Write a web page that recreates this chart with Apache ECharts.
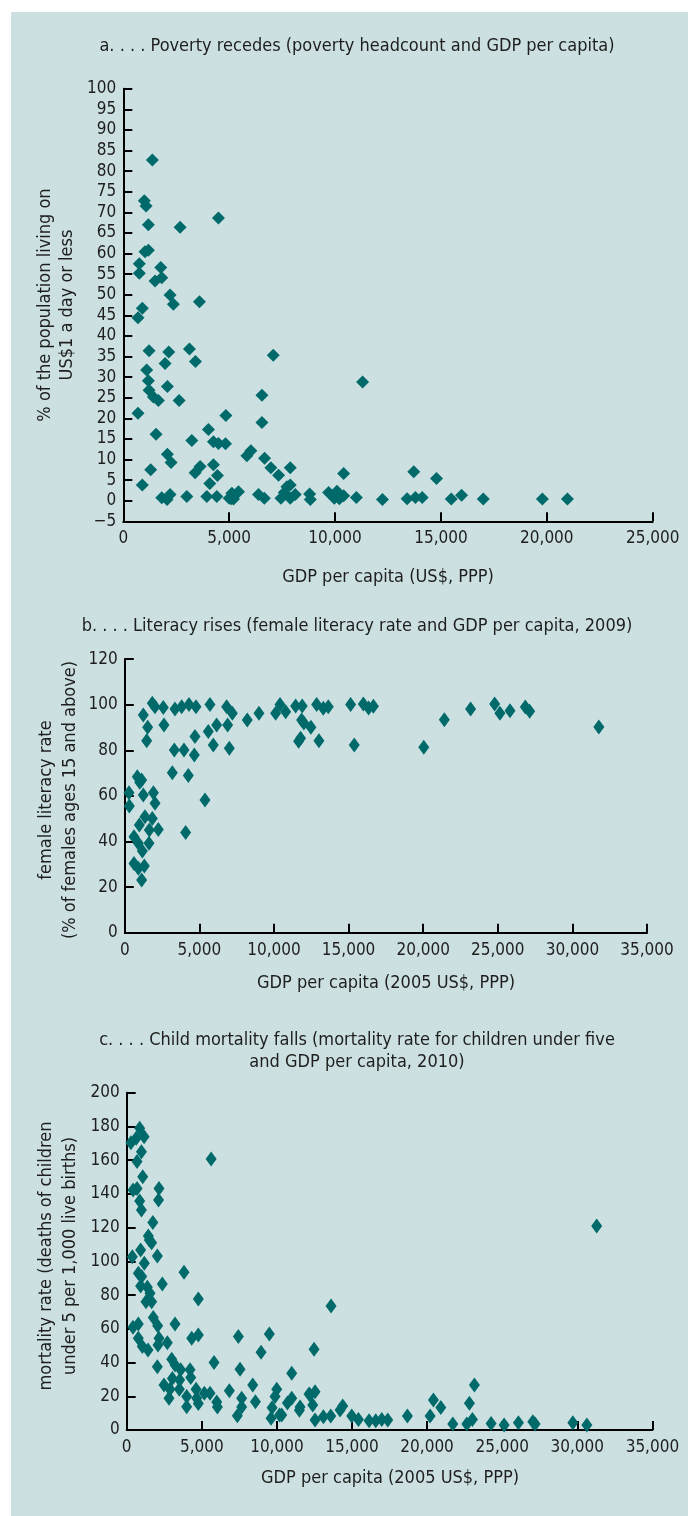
<!DOCTYPE html>
<html><head><meta charset="utf-8">
<script src="https://cdn.jsdelivr.net/npm/echarts@6/dist/echarts.min.js"></script>
<style>
html,body{margin:0;padding:0;background:#fff;}
#bg{position:absolute;left:11px;top:12px;width:677px;height:1504px;background:#cce0e2;}
#c{position:absolute;left:0;top:0;width:688px;height:1516px;}
</style>
</head><body><div id="bg"></div><div id="c"></div>
<script>
// Panel a: poverty headcount vs GDP per capita
const POV_GDP = [1372,993,1074,1183,2682,4494,1026,1183,757,757,1769,1499,1816,2209,2366,3595,899,695,
1216,2146,3123,3407,7081,1972,1105,1183,1216,1420,1656,2081,2635,695,4843,6546,6546,1547,4021,3235,4257,4494,4825,
2081,2256,1294,899,3391,3628,4257,4446,4084,5836,6025,6670,6970,7333,7885,7728,7885,10406,11300,
1816,2068,2209,2999,3945,4415,5000,5205,5126,5440,6386,6660,7445,7885,8121,8798,8830,9697,9965,10090,10406,11007,
12237,13404,13717,13797,14114,14790,15486,15973,16999,19790,20973,7600,10200,5100];
const POV_RATE = [82.7,72.8,71.5,67.0,66.4,68.6,60.4,60.8,57.5,55.2,56.6,53.3,54.1,49.9,47.7,48.3,46.7,44.4,
36.4,36.1,36.8,33.8,35.3,33.3,31.7,29.1,26.8,25.2,24.3,27.7,24.3,21.2,20.7,25.6,19.0,16.1,17.3,14.6,14.3,13.9,13.8,
11.3,9.3,7.5,3.8,6.8,8.3,8.7,6.1,4.2,10.9,12.1,10.3,8.0,6.2,8.0,3.4,3.8,6.6,28.8,
0.7,0.3,1.5,1.0,1.0,1.0,0.6,0.4,1.8,2.2,1.5,0.6,0.6,0.6,1.5,1.6,0.3,2.0,0.6,2.3,1.2,0.8,
0.3,0.5,7.0,0.8,0.8,5.4,0.4,1.3,0.4,0.4,0.4,2.0,0.5,0.5];

// Panel b: female literacy vs GDP per capita, 2009
const LIT_GDP = [281,303,838,1129,1240,1916,2027,1352,1843,2245,1644,974,616,907,1175,1621,616,1309,907,1129,
1240,1534,1467,1843,2022,2580,2625,3363,3810,4301,4770,5708,6827,7207,8207,8991,10110,10403,10783,11450,11890,11850,
12475,11780,12857,13303,13638,13011,15135,15380,3319,3967,3185,4257,4703,4659,5597,6155,5931,6893,7005,5373,4078,
23177,24790,25142,25817,26844,27137,21416,20038,31773,15989,16341,16664,11650,1000,12000];
const LIT_RATE = [61.4,55.6,68.4,67.0,60.4,61.4,56.8,50.9,50.1,45.3,45.0,47.2,42.1,39.2,35.8,39.2,30.4,29.3,28.3,23.1,
95.5,90.1,84.2,100.6,99.1,98.8,91.1,98.1,99.1,100.1,99.1,100.1,99.1,96.2,93.3,96.2,96.2,100.1,96.9,99.4,99.4,93.3,
90.1,85.3,100.1,98.4,99.1,84.2,100.1,82.3,80.1,80.1,70.2,68.9,86.0,77.9,88.2,91.1,82.3,91.1,80.9,58.2,44.0,
98.1,100.3,96.3,97.4,99.0,97.1,93.4,81.3,90.2,100.3,98.5,99.3,84.0,66.0,92.0];

// Panel c: under-five mortality vs GDP per capita, 2010
const MORT_GDP = [280,865,632,1158,981,689,1066,426,689,865,981,2150,2120,1740,5622,31291,
1439,1661,1506,373,928,1173,2039,777,999,3816,2371,928,1373,1550,1661,1284,4768,1772,2061,418,773,3217,773,1040,1417,
2150,2083,2705,4329,4768,7433,9497,2039,2997,3217,3594,4218,3040,3528,4262,5814,7546,8944,2484,2883,3505,2816,3994,
3994,4618,4662,4768,5548,5170,5994,6038,6833,7655,7366,7655,8392,8570,9877,9611,10322,9988,
10988,10988,11542,12142,12208,12541,12385,11497,12541,13095,13606,12474,13585,14206,14383,14983,15428,16137,16581,
16981,17381,18688,20200,20420,20912,21711,22643,22817,23017,23150,24262,25128,26080,27039,27192,29703,30636,
10180,9681,10700];
const MORT_RATE = [170.4,178.9,173.0,174.0,165.1,159.2,150.2,142.3,143.3,135.8,130.5,143.3,136.4,123.0,160.7,121.0,
115.1,111.1,112.7,102.8,106.8,98.9,103.2,92.9,91.0,93.5,86.6,85.4,84.6,81.1,76.1,76.1,77.7,66.8,61.9,60.9,62.9,62.9,54.4,49.5,47.4,
54.4,50.4,51.8,54.4,56.4,55.4,57.0,37.5,41.9,38.6,35.7,35.7,30.6,29.7,31.1,40.1,36.0,46.1,26.7,24.1,24.1,18.8,19.8,
13.8,24.1,18.8,15.7,21.8,21.8,16.6,13.6,23.3,18.8,8.5,13.6,26.7,16.7,19.8,6.9,8.9,24.1,
33.6,18.8,13.6,21.4,20.8,22.7,14.8,11.7,5.9,7.9,73.5,47.9,8.3,11.9,14.2,8.3,6.3,5.5,5.5,
6.3,5.9,8.3,8.3,17.8,13.4,3.5,3.5,15.8,6.3,26.7,3.9,3.0,4.3,4.9,3.5,4.3,3.0,
8.9,13.2,16.0];

const TITLE_A = 'a. . . . Poverty recedes (poverty headcount and GDP per capita)';
const TITLE_B = 'b. . . . Literacy rises (female literacy rate and GDP per capita, 2009)';
const TITLE_C1 = 'c. . . . Child mortality falls (mortality rate for children under five';
const TITLE_C2 = 'and GDP per capita, 2010)';
const XNAME_A = 'GDP per capita (US$, PPP)';
const XNAME_BC = 'GDP per capita (2005 US$, PPP)';
const YNAME_A = ['% of the population living on', 'US$1 a day or less'];
const YNAME_B = ['female literacy rate', '(% of females ages 15 and above)'];
const YNAME_C = ['mortality rate (deaths of children', 'under 5 per 1,000 live births)'];

const F = "'Liberation Sans Narrow','DejaVu Sans Condensed',sans-serif";
const TXT = '#1e1e1e';
const MARK = '#006a6a';

function fmt(v){ const s = String(Math.abs(v)).replace(/\B(?=(\d{3})+(?!\d))/g, ','); return v < 0 ? '\u2212' + s : s; }
function zip(a,b){ return a.map((x,i)=>[x,b[i]]); }

function xAx(g, max){ return {type:'value', gridIndex:g, min:0, max:max, interval:5000,
  axisLine:{show:true,onZero:false,lineStyle:{color:'#000',width:2}},
  axisTick:{show:true,inside:true,length:9,lineStyle:{color:'#000',width:2}},
  splitLine:{show:false},
  axisLabel:{color:TXT,fontSize:17,fontFamily:F,margin:9,formatter:fmt}}; }
function yAx(g, min, max, iv){ return {type:'value', gridIndex:g, min:min, max:max, interval:iv,
  axisLine:{show:true,onZero:false,lineStyle:{color:'#000',width:2}},
  axisTick:{show:true,inside:true,length:9,lineStyle:{color:'#000',width:2}},
  splitLine:{show:false},
  axisLabel:{color:TXT,fontSize:17,fontFamily:F,margin:7,formatter:fmt}}; }

function txt(x,y,s,rot,size){ return {type:'text', x:x, y:y, rotation: rot||0, silent:true,
  style:{text:s, fill:TXT, font: (size||18)+'px '+F, textAlign:'center', textVerticalAlign:'middle'}}; }

const chart = echarts.init(document.getElementById('c'), null, {renderer:'canvas'});
chart.setOption({
  animation:false,
  backgroundColor:'transparent',
  grid:[
    {left:123.3, right:35.3, top:88.7, height:432.6},
    {left:124.8, right:41, top:659.1, height:273.6},
    {left:126.7, right:35.6, top:1092.8, height:337.2}
  ],
  xAxis:[xAx(0,25000), xAx(1,35000), xAx(2,35000)],
  yAxis:[yAx(0,-5,100,5), yAx(1,0,120,20), yAx(2,0,200,20)],
  series:[
    {type:'scatter', xAxisIndex:0, yAxisIndex:0, symbol:'diamond', symbolSize:[13,13], itemStyle:{color:MARK,opacity:1}, data:zip(POV_GDP,POV_RATE)},
    {type:'scatter', xAxisIndex:1, yAxisIndex:1, symbol:'diamond', symbolSize:[11,15], itemStyle:{color:MARK,opacity:1}, data:zip(LIT_GDP,LIT_RATE)},
    {type:'scatter', xAxisIndex:2, yAxisIndex:2, symbol:'diamond', symbolSize:[11,15], itemStyle:{color:MARK,opacity:1}, data:zip(MORT_GDP,MORT_RATE)}
  ],
  graphic:[
    txt(357,46,TITLE_A),
    txt(388,577,XNAME_A),
    txt(45,305,YNAME_A[0],Math.PI/2),
    txt(67,305,YNAME_A[1],Math.PI/2),
    txt(357,626,TITLE_B),
    txt(386,983,XNAME_BC),
    txt(46,800,YNAME_B[0],Math.PI/2),
    txt(70,800,YNAME_B[1],Math.PI/2),
    txt(357,1040,TITLE_C1),
    txt(357,1062,TITLE_C2),
    txt(390,1478,XNAME_BC),
    txt(46,1256,YNAME_C[0],Math.PI/2),
    txt(70,1256,YNAME_C[1],Math.PI/2)
  ]
});
</script></body></html>
